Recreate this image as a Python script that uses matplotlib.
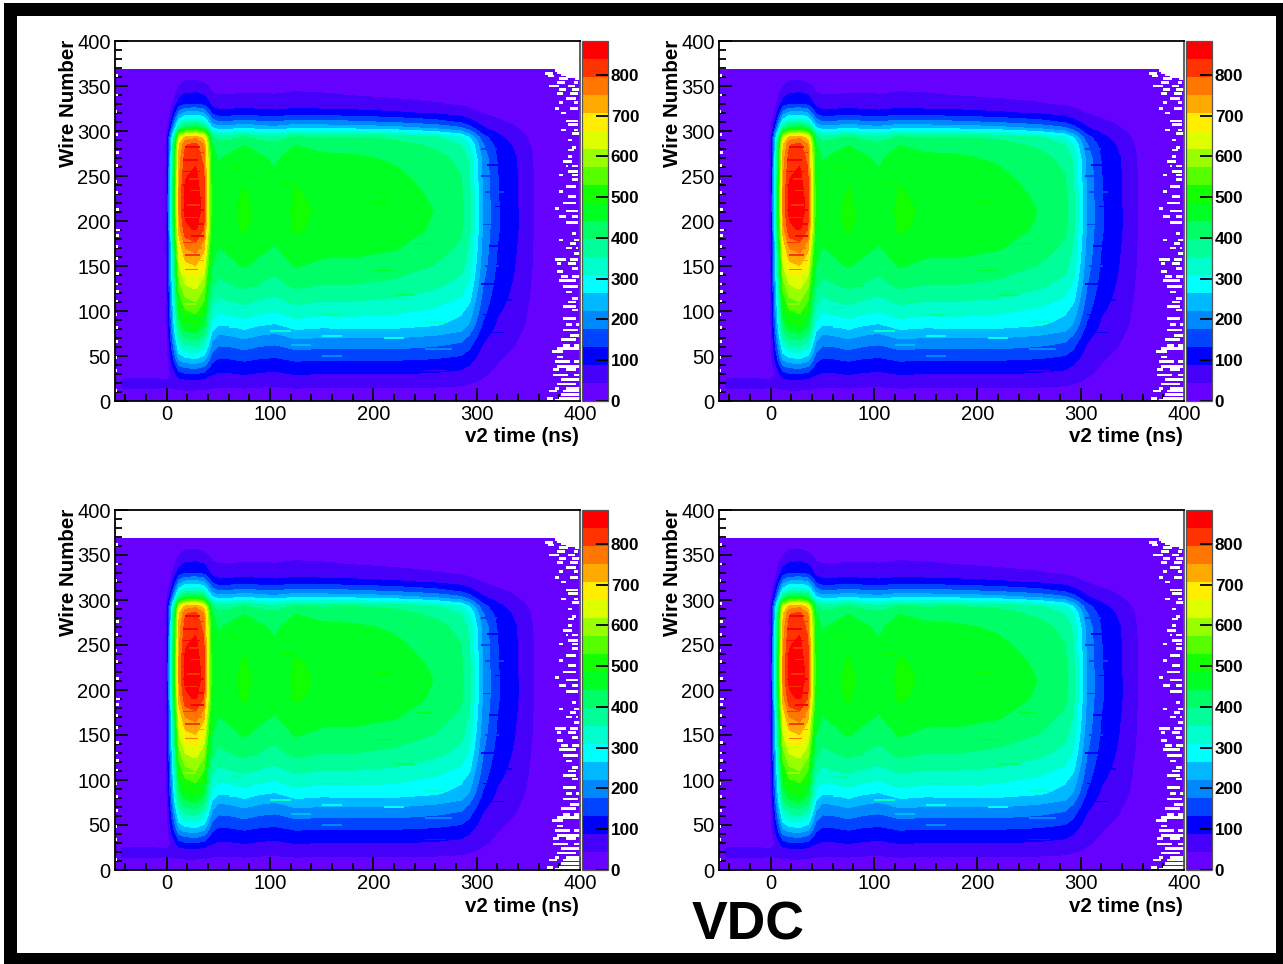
import numpy as np
import matplotlib
matplotlib.use("Agg")
import matplotlib.pyplot as plt
from matplotlib.patches import Rectangle

plt.rcParams['font.family'] = ['Liberation Sans', 'DejaVu Sans']

W, H = 1283, 964

time_nodes = [-50,-42,-12,-4,0,4,8,12,18,28,36,40,44,50,60,75,90,105,125,150,180,220,260,285,293,299,306,320,335,350,365,400]
wire_nodes = [0,8,15,22,30,38,45,55,65,75,85,100,115,130,150,170,190,210,230,250,270,285,293,298,303,310,320,330,345,355,368]

counts = [
[8,8,8,8,8,10,12,14,14,14,14,12,12,12,12,12,12,12,12,12,12,12,12,12,12,12,10,10,8,6,4,3],
[10,12,12,12,14,18,22,26,28,28,26,24,24,24,24,26,26,26,26,26,26,26,25,24,22,20,18,15,12,8,5,3],
[16,48,50,46,46,46,48,52,55,55,52,50,46,43,43,46,43,42,46,45,45,45,43,40,36,33,30,24,18,11,6,4],
[14,56,58,50,50,52,60,68,73,75,72,68,64,59,60,64,60,58,64,62,63,63,60,55,50,45,40,32,24,14,7,4],
[10,22,22,16,14,43,78,113,126,130,120,98,92,83,84,90,84,81,90,87,88,88,84,77,67,58,48,38,28,18,8,4],
[8,10,10,10,18,63,114,165,184,190,175,143,116,103,104,112,104,101,112,109,110,110,104,96,83,68,54,42,33,22,9,5],
[8,10,10,10,20,82,150,218,242,250,230,188,142,124,126,135,126,122,135,131,132,132,126,116,100,81,62,46,36,24,10,5],
[8,8,8,10,24,106,192,278,310,320,294,240,180,156,158,170,158,153,170,165,167,167,158,146,126,102,75,52,42,27,11,5],
[8,8,8,10,27,125,228,330,369,380,350,285,215,189,191,205,191,185,205,199,201,201,191,176,152,123,90,60,48,30,11,5],
[8,8,8,10,31,145,264,383,427,440,405,330,255,225,228,245,228,220,245,238,240,240,228,211,181,147,108,69,55,34,12,5],
[8,8,8,10,34,162,294,426,475,490,450,368,300,267,270,290,270,261,290,281,284,284,270,250,215,174,128,81,64,38,12,5],
[8,8,8,10,38,178,324,470,524,540,497,405,340,315,325,335,322,312,335,325,325,318,300,272,248,201,147,94,72,42,12,6],
[8,8,8,10,42,195,354,513,572,590,543,442,375,352,362,375,360,350,375,364,364,355,335,308,278,225,165,105,80,46,13,6],
[8,8,8,10,45,211,384,557,620,640,590,480,410,385,395,410,395,382,410,398,398,388,365,338,303,246,180,115,86,50,13,6],
[8,8,8,10,48,228,414,615,690,705,655,530,440,418,428,445,428,415,445,430,430,420,395,368,329,267,196,125,93,54,14,6],
[8,8,8,10,52,245,447,670,750,770,720,575,460,440,450,470,452,438,470,456,455,445,418,388,348,282,207,132,99,56,14,6],
[8,8,8,10,57,270,500,730,825,845,790,625,480,460,470,490,470,455,490,475,475,462,435,405,362,294,215,137,103,59,14,6],
[8,8,8,10,60,285,520,760,850,870,815,650,490,465,475,495,475,460,495,480,478,465,440,410,365,297,218,138,104,59,14,6],
[8,8,8,10,60,285,520,760,850,865,815,650,490,460,470,490,470,455,490,475,475,460,435,405,360,295,215,135,100,58,14,6],
[8,8,8,10,58,274,505,745,835,850,800,635,485,452,462,480,462,447,480,466,462,450,425,398,355,288,211,134,101,58,14,6],
[8,8,8,10,56,264,485,725,815,830,780,620,470,438,448,465,448,434,465,451,448,436,412,385,344,279,205,130,98,56,14,6],
[8,8,8,10,52,245,460,700,790,805,750,600,445,415,425,440,425,411,440,427,425,412,388,352,310,250,180,115,85,48,13,5],
[8,8,8,8,45,210,400,630,720,740,680,545,410,373,377,405,377,365,405,393,397,390,360,315,265,210,150,100,72,42,12,5],
[7,7,7,7,35,170,330,510,580,600,555,450,345,310,315,335,315,305,335,325,325,315,285,245,205,165,120,85,60,36,11,4],
[7,7,7,7,28,130,260,400,455,470,435,350,275,245,250,265,250,240,265,257,255,240,215,185,155,125,95,68,50,30,10,4],
[7,7,7,7,20,90,190,300,340,350,325,265,205,180,182,195,182,178,195,189,185,170,150,125,105,88,70,52,38,24,9,4],
[6,6,6,6,12,50,120,195,232,240,222,175,125,105,106,112,106,102,112,108,104,95,82,68,58,50,42,32,24,14,7,3],
[6,6,6,6,9,26,68,110,126,130,120,100,72,62,62,66,62,60,66,63,60,54,47,38,33,28,24,18,13,8,5,3],
[6,6,6,6,7,12,34,58,76,80,72,58,40,36,36,38,40,38,42,40,34,30,24,18,15,12,10,8,6,5,4,3],
[5,5,5,5,6,7,15,30,46,48,38,28,15,12,12,12,16,16,18,16,12,12,10,8,8,6,6,5,5,4,3,2],
[5,5,5,5,5,5,6,8,10,10,8,6,6,6,6,6,6,6,6,6,6,6,6,5,5,5,5,4,4,3,2,2],
]

# fluctuating bins: wire, first time, last time, count
hot_bins = [
(282,18,32,840),(276,16,36,810),(268,16,30,840),(262,20,36,810),(255,16,32,850),(247,22,36,800),(240,16,30,860),
(234,24,36,800),(226,16,34,860),(218,20,32,810),(212,16,36,870),(204,16,30,800),(197,22,36,870),(189,16,30,810),
(183,24,36,850),(176,16,26,800),(170,20,34,760),(162,18,32,800),(156,24,36,720),(146,18,30,760),(138,22,36,660),
(124,18,30,600),(108,16,28,600),(92,20,34,470),
(260,60,72,490),(240,110,122,510),(220,200,216,500),(205,70,84,510),(190,118,130,520),(175,240,256,480),
(160,140,160,470),(145,200,220,470),(128,70,90,400),(118,220,240,400),(104,60,74,360),(96,150,170,360),
(88,250,270,340),(82,60,76,300),(78,100,120,320),(72,150,170,290),(70,210,230,280),(66,70,86,190),(62,120,140,260),
(58,250,276,220),(52,60,80,150),(50,150,170,210),(48,220,240,150),(42,90,110,100),(36,140,160,95),(34,250,270,80),
(280,304,320,170),(262,310,330,120),(250,304,318,170),(232,308,326,170),(216,318,336,120),(196,306,322,170),
(172,312,330,120),(150,308,322,170),(130,304,320,130),(112,316,334,100),(96,306,320,110),(76,310,326,95),
]

# empty bins on the right and left fringes: wire, first time, last time
empty_bins = [
(367.5,376,400),(365,378,400),(362.5,382,400),(360,386,400),(364,366,374),(361,369,375),(358,380,388),(358,395,400),
(354,378,385),(354,394,398),(350,370,380),(350,388,395),(346,380,386),(346,392,400),(342,378,384),
(342,390,398),(336,386,396),(332,380,384),(332,394,398),(325,376,380),(325,390,398),(320,382,386),
(311,386,398),(307,388,398),(301,382,386),(301,394,398),(297,392,400),(290,388,392),(282,392,396),
(279,388,394),(272,388,392),(266,384,392),(261,386,388),(261,392,398),(255,388,398),(251,380,384),
(251,392,398),(246,392,398),(238,386,396),(233,380,384),(227,388,396),(220,384,396),(214,376,380),
(211,386,398),(205,380,386),(205,392,398),(198,386,398),(186,392,396),(179,380,384),(179,394,400),
(175,390,396),(170,386,392),(170,396,398),(164,394,400),(157,376,386),(157,390,398),(153,378,382),
(153,388,396),(147,392,398),(144,378,384),(138,382,388),(138,392,400),(134,380,396),(127,384,398),
(121,386,392),(114,392,398),(110,388,396),(105,384,396),(101,392,398),(92,384,396),(85,386,392),
(85,396,400),(79,384,398),(73,390,400),(68,382,396),(62,384,390),(62,394,400),(58,378,400),
(55,373,384),(49,378,384),(44,376,390),(44,394,400),(38,378,400),(35,374,380),(35,386,396),
(29,374,388),(29,394,400),(24,382,400),(19,378,396),(14,376,380),(14,386,400),(11,370,378),
(11,384,400),(7,382,400),(3,368,374),(3,380,400),(1,376,400),
(362,-50,-47),(340,-50,-47),(322,-50,-48),(296,-50,-47),(276,-50,-46),(262,-50,-47),(244,-50,-48),
(232,-50,-47),(213,-50,-46),(190,-50,-45),(184,-50,-46),(172,-50,-47),(158,-50,-47),(142,-50,-46),
(130,-50,-47),(122,-50,-46),(111,-50,-47),(96,-50,-48),(82,-50,-47),(66,-50,-47),(48,-50,-48),
(34,-50,-48),(12,-50,-48),
]

band_colors = ['#6600FF','#4400F8','#0000FF','#0044FF','#0088FF','#00B8FF','#00FFFF','#00FFCC','#00FF99','#00FF66',
               '#00FF22','#11FF00','#55FF00','#99FF00','#DDFF00','#FFEE00','#FFAA00','#FF7700','#FF3300','#FF0000']
z_max = 883
x_major = [0,100,200,300,400]
x_minor = [-40,-20,20,40,60,80,120,140,160,180,220,240,260,280,320,340,360,380]
y_major = [0,50,100,150,200,250,300,350,400]
y_minor = [v for v in range(0,400,10) if v % 50]
z_ticks = [0,100,200,300,400,500,600,700,800]

panels = [(115,41),(719,41),(115,510),(719,510)]

def frac(l, t, w, h):
    return [l/W, 1-(t+h)/H, w/W, h/H]

fig = plt.figure(figsize=(W/100, H/100), dpi=100, facecolor='white')

# thick black frame
bg = fig.add_axes([0,0,1,1], zorder=-5)
bg.set_xlim(0,W); bg.set_ylim(H,0); bg.axis('off')
bg.add_patch(Rectangle((4,3), W-4, H-3, facecolor='black', edgecolor='none'))
bg.add_patch(Rectangle((17,16), 1276-17, 953-16, facecolor='white', edgecolor='none'))

levels = np.linspace(0, z_max, len(band_colors)+1)
Z = np.array(counts, dtype=float)

for (px, py) in panels:
    ax = fig.add_axes(frac(px, py, 465, 360))
    ax.set_xlim(-50, 400); ax.set_ylim(0, 400)
    cs = ax.contourf(time_nodes, wire_nodes, Z, levels=levels, colors=band_colors, antialiased=False, zorder=1)
    for wire, x0, x1, val in hot_bins:
        band = int(np.searchsorted(levels, val) - 1)
        ax.barh(wire, x1-x0, left=x0, height=1.8, color=band_colors[band], edgecolor='none', zorder=1.5)
    for wire, x0, x1 in empty_bins:
        ax.barh(wire, x1-x0, left=x0, height=3.0, color='white', edgecolor='none', zorder=2)
    ax.set_xticks(x_major); ax.set_xticks(x_minor, minor=True)
    ax.set_yticks(y_major); ax.set_yticks(y_minor, minor=True)
    ax.tick_params(axis='both', which='major', direction='in', length=9.5, width=1.3, labelsize=14.5, colors='black', zorder=5)
    ax.tick_params(axis='both', which='minor', direction='in', length=5, width=1.3, zorder=5)
    ax.tick_params(axis='x', pad=3); ax.tick_params(axis='y', pad=3)
    for s in ax.spines.values():
        s.set_linewidth(1.3); s.set_zorder(6)
    ax.spines['right'].set_color('#555555')
    fig.text((px-47)/W, 1-(py-1)/H, 'Wire Number', rotation=90, ha='center', va='top', fontsize=14.8, fontweight='bold')
    fig.text((px+464)/W, 1-(py+396)/H, 'v2 time (ns)', ha='right', va='center', fontsize=14.8, fontweight='bold')

    cax = fig.add_axes(frac(px+467, py, 26, 360))
    cb = fig.colorbar(cs, cax=cax, ticks=z_ticks)
    cax.tick_params(axis='y', direction='in', length=9, width=1.3, labelsize=12.3, pad=2)
    for lab in cax.get_yticklabels():
        lab.set_fontweight('bold')
    cb.outline.set_linewidth(0.9); cb.outline.set_edgecolor('#555555')
    cb.minorticks_off()

fig.text(748/W, 1-925/H, 'VDC', ha='center', va='center', fontsize=38.5, fontweight='bold')

fig.savefig('out.png', dpi=100, facecolor='white')
